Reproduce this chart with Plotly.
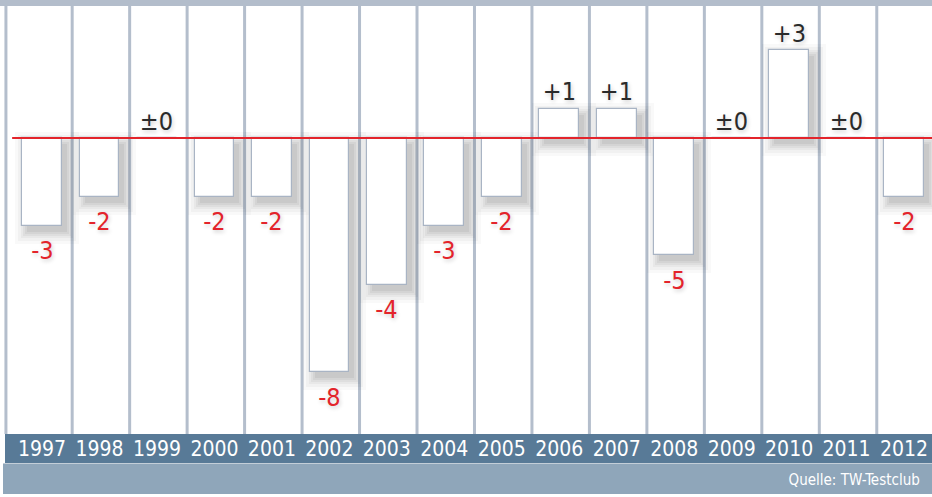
import plotly.graph_objects as go

years = ["1997", "1998", "1999", "2000", "2001", "2002", "2003", "2004",
         "2005", "2006", "2007", "2008", "2009", "2010", "2011", "2012"]
values = [-3, -2, 0, -2, -2, -8, -5, -3, -2, 1, 1, -4, 0, 3, 0, -2]
labels = ["-3", "-2", "±0", "-2", "-2", "-8", "-4", "-3", "-2", "+1", "+1",
          "-5", "±0", "+3", "±0", "-2"]
source = "Quelle: TW-Testclub"

W, H = 932, 497
ML, MR, MT, MB = 5, 0, 6, 63
PW, PH = W - ML - MR, H - MT - MB
XR = [-0.644, 15.486]
YR = [-10.10, 4.505]
PXX = PW / (XR[1] - XR[0])
PXY = PH / (YR[1] - YR[0])

FONT = "DejaVu Sans, sans-serif"
RED = "#e3242b"
DARK = "#2a2a2a"
BAR_W = 0.69

idx = list(range(len(years)))
fig = go.Figure()

# soft drop shadows built from the data values
off_x, off_y = 5 / PXX, 6 / PXY
for s_px, op in [(12, 0.025), (9, 0.03), (6, 0.035), (4, 0.04), (2, 0.045), (0, 0.05)]:
    sx, sy = s_px / PXX, s_px / PXY
    xs, bases, hs, ws = [], [], [], []
    for i, v in zip(idx, values):
        if v == 0:
            continue
        lo, hi = min(v, 0), max(v, 0)
        b = lo - off_y - sy
        t = hi - off_y + sy
        xs.append(i + off_x)
        bases.append(b)
        hs.append(t - b)
        ws.append(BAR_W + 2 * sx)
    fig.add_trace(go.Bar(x=xs, y=hs, base=bases, width=ws,
                         marker=dict(color=f"rgba(0,0,0,{op})", line=dict(width=0)),
                         hoverinfo="skip", showlegend=False))

fig.add_trace(go.Bar(x=idx, y=values, width=BAR_W,
                     marker=dict(color="white", line=dict(color="#a9b4c4", width=1.2)),
                     showlegend=False))

for i, v, t in zip(idx, values, labels):
    neg = v < 0
    fig.add_annotation(x=i, y=v, text=t, showarrow=False,
                       yshift=-25 if neg else 17, yanchor="middle",
                       font=dict(family=FONT, size=25, color=RED if neg else DARK,
                                 shadow="1px 2px 4px rgba(0,0,0,0.2)"))

shapes = []
# column separators
for i in idx[:-1]:
    shapes.append(dict(type="line", xref="x", yref="paper", x0=i + 0.525, x1=i + 0.525,
                       y0=0, y1=1, line=dict(color="#b4becc", width=3), layer="below"))
# left border
shapes.append(dict(type="line", xref="paper", yref="paper", x0=0.001, x1=0.001, y0=0, y1=1,
                   line=dict(color="#b4becc", width=3), layer="below"))
# top band
shapes.append(dict(type="rect", xref="paper", yref="paper", x0=-ML / PW, x1=1,
                   y0=1, y1=1 + MT / PH, fillcolor="#b3bdcb", line=dict(width=0)))
# year band
shapes.append(dict(type="rect", xref="paper", yref="paper", x0=0, x1=1,
                   y0=-29 / PH, y1=0, fillcolor="#587a97", line=dict(width=0), layer="below"))
# thin divider + source band
shapes.append(dict(type="rect", xref="paper", yref="paper", x0=-2 / PW, x1=1,
                   y0=-30 / PH, y1=-29 / PH, fillcolor="#c3ced8", line=dict(width=0), layer="below"))
shapes.append(dict(type="rect", xref="paper", yref="paper", x0=-2 / PW, x1=1,
                   y0=-60 / PH, y1=-30 / PH, fillcolor="#8fa6ba", line=dict(width=0), layer="below"))
# zero line
shapes.append(dict(type="line", xref="x", yref="y", x0=-0.52, x1=XR[1], y0=0, y1=0,
                   line=dict(color=RED, width=2), layer="above"))

fig.add_annotation(xref="paper", yref="paper", x=1, y=-46 / PH, xanchor="right",
                   yanchor="middle", xshift=-3, text=source, showarrow=False,
                   font=dict(family=FONT, size=15, color="white"))

fig.update_layout(
    width=W, height=H,
    margin=dict(l=ML, r=MR, t=MT, b=MB),
    paper_bgcolor="white", plot_bgcolor="white",
    barmode="overlay", bargap=0,
    shapes=shapes,
    xaxis=dict(range=XR, tickvals=idx, ticktext=years, showgrid=False, zeroline=False,
               showline=False, ticks="", tickfont=dict(family=FONT, size=21, color="white"),
               fixedrange=True),
    yaxis=dict(range=YR, showgrid=False, zeroline=False, showticklabels=False,
               showline=False, fixedrange=True),
)

post = """
document.body.style.margin = '0';
document.body.style.overflow = 'hidden';
var gd = document.getElementById('{plot_id}');
gd.querySelectorAll('text').forEach(function (t) { t.style.fontStretch = 'condensed'; });
"""

fig.write_html("out.html", post_script=post, config={"displayModeBar": False})
